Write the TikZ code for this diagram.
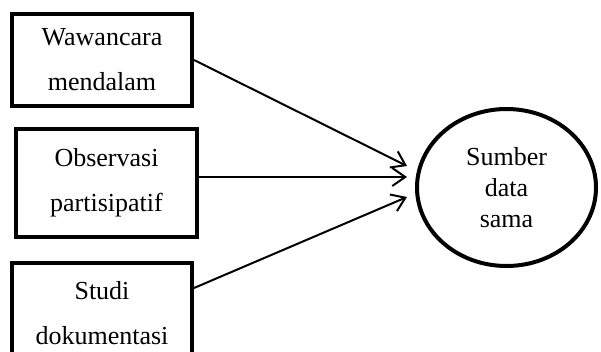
\documentclass[tikz,border=0pt]{standalone}
\usepackage{fontspec}
\setmainfont{Liberation Serif}
\usetikzlibrary{shapes.geometric,arrows.meta}
\begin{document}
\begin{tikzpicture}[x=1pt,y=-1pt,
                kotak/.style={draw,line width=4pt,inner sep=0pt,align=center,font=\fontsize{26}{45}\selectfont},
                bulat/.style={ellipse,draw,line width=4pt,inner sep=0pt,align=center,minimum width=179pt,minimum height=157pt,font=\fontsize{26}{31}\selectfont},
                panah/.style={line width=2pt,-{Straight Barb[length=13pt,width=18pt,line width=2pt]}}]
                \clip (0,0) rectangle (601,351);
                \node[kotak,minimum width=180pt,minimum height=92pt] (wawancara) at (102,60) {Wawancara\\mendalam};
                \node[kotak,minimum width=181pt,minimum height=108pt] (observasi) at (106.5,183) {Observasi\\partisipatif};
                \node[kotak,minimum width=180pt,minimum height=100pt] (studi) at (102,313) {Studi\\dokumentasi};
                \node[bulat] (sumber) at (506.5,187.5) {Sumber\\data\\sama};
                \coordinate (u1) at (407,166);
                \coordinate (u2) at (407,177);
                \coordinate (u3) at (407,197);
                \draw[panah] (wawancara.east) -- (u1);
                \draw[panah] (observasi.east |- u2) -- (u2);
                \draw[panah] ([yshift=-27pt]studi.north east) -- (u3);
            \end{tikzpicture}
\end{document}
